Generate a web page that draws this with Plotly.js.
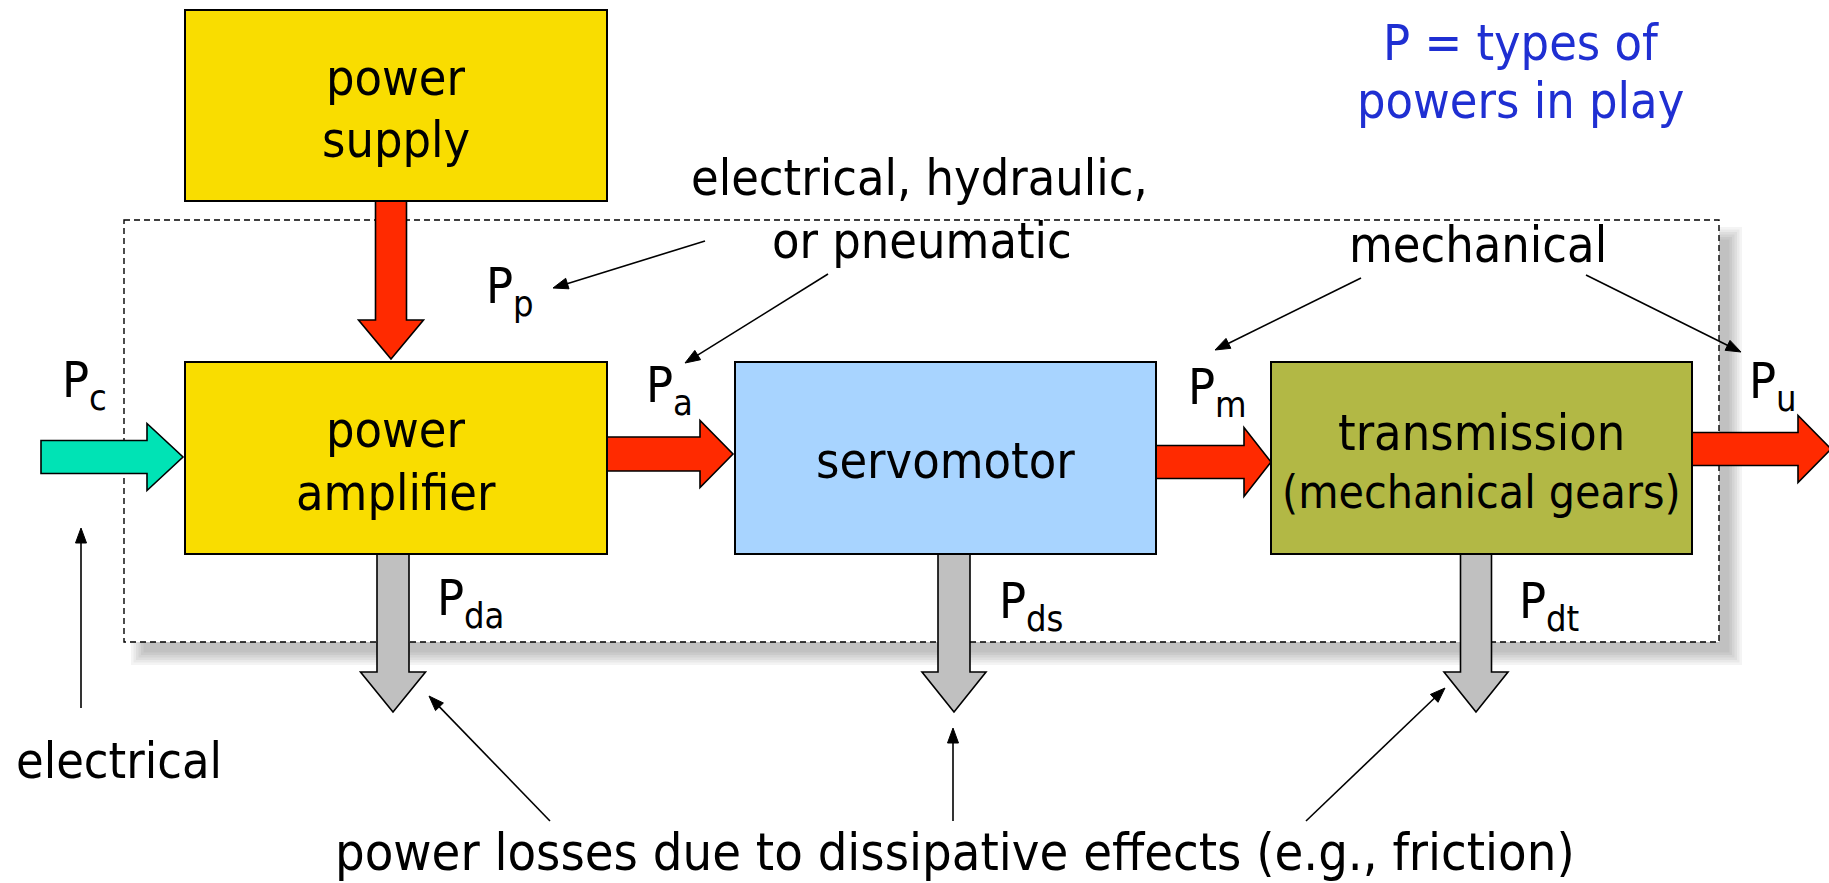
<!DOCTYPE html>
<html>
<head>
<meta charset="utf-8">
<script src="https://cdn.plot.ly/plotly-3.0.1.min.js"></script>
<style>
html,body{margin:0;padding:0;background:#fff;overflow:hidden;}
#chart{width:1829px;height:883px;}
</style>
</head>
<body>
<div id="chart"></div>
<script>
// ---------- content ----------
const boxNames = ["power supply", "power amplifier", "servomotor", "transmission"];
const boxLines = [["power", "supply"], ["power", "amplifier"], ["servomotor"], ["transmission", "(mechanical gears)"]];
const boxColors = ["#F9DD00", "#F9DD00", "#A8D4FF", "#B2B845"];

const powerSymbol = "P";
const powerSubs = ["p", "c", "a", "m", "u", "da", "ds", "dt"];

const noteTexts = ["P = types of", "powers in play", "electrical, hydraulic,", "or pneumatic", "mechanical", "electrical",
  "power losses due to dissipative effects (e.g., friction)"];
const noteColors = ["#1F2FD2", "#1F2FD2", "#000", "#000", "#000", "#000", "#000"];

const flowNames = ["Pp", "Pc", "Pa", "Pm", "Pu", "Pda", "Pds", "Pdt"];
const flowColors = ["#FF2A00", "#00E3B5", "#FF2A00", "#FF2A00", "#FF2A00", "#C0C0C0", "#C0C0C0", "#C0C0C0"];

// ---------- geometry (pixel space of the 1829x883 page) ----------
const W = 1829, H = 883;
const boxX0 = [185, 185, 735, 1271];
const boxX1 = [607, 607, 1156, 1692];
const boxY0 = [10, 362, 362, 362];
const boxY1 = [201, 554, 554, 554];
const boxLineBase = [[95, 157], [447, 510], [478], [450, 508]];
const boxLineSize = [[50, 50], [50, 50], [50], [50, 46]];

// block arrows: tail (x,y), tip (x,y), shaft width, head width, head length
const flowTailX = [391, 41, 607, 1156, 1692, 393, 954, 1476];
const flowTailY = [201, 457, 454, 462, 449, 554, 554, 554];
const flowTipX  = [391, 183, 733, 1271, 1831, 393, 954, 1476];
const flowTipY  = [359, 457, 454, 462, 449, 712, 712, 712];
const flowShaft = [31, 33, 34, 33, 33, 32, 32, 31];
const flowHead  = [65, 67, 67, 69, 67, 65, 64, 64];
const flowHeadLen = [39, 36, 33, 27, 33, 40, 40, 40];

const powerLabelX = [486, 62, 646, 1188, 1749, 437, 999, 1519];
const powerLabelBase = [303, 397, 402, 404, 398, 615, 618, 618];
const SUB_DX = 27, SUB_DY = 13, SUB_SIZE = 36;

const noteX = [1521, 1520, 919, 922, 1478, 16, 335];
const noteAnchor = ["center", "center", "center", "center", "center", "left", "left"];
const noteBase = [60, 118, 195, 258, 262, 778, 870];
const noteSize = [50, 50, 50, 50, 50, 50, 52];

// thin pointer arrows: tail -> tip
const ptrTailX = [705, 828, 1361, 1586, 81, 550, 953, 1306];
const ptrTailY = [241, 274, 278, 275, 708, 821, 821, 821];
const ptrTipX  = [553, 685, 1215, 1741, 81, 429, 953, 1445];
const ptrTipY  = [288, 363, 350, 352, 528, 696, 728, 688];

const frame = {x0: 124, y0: 220, x1: 1719, y1: 642};

// ---------- build ----------
const FONT = '"DejaVu Sans Condensed", "Noto Sans", "DejaVu Sans", sans-serif';
const ASC = 0.93;

const shapes = [];
// drop shadow of the dashed frame
for (let i = 0; i < 6; i++) {
  const d = 8 - i * 2.5;
  shapes.push({type: "rect", xref: "x", yref: "y",
    x0: frame.x0 + 15 - d, x1: frame.x1 + 15 + d, y0: frame.y0 + 15 - d, y1: frame.y1 + 15 + d,
    fillcolor: "rgba(0,0,0,0.045)", line: {width: 0}, layer: "above"});
}
shapes.push({type: "rect", xref: "x", yref: "y", x0: frame.x0, x1: frame.x1, y0: frame.y0, y1: frame.y1,
  fillcolor: "#ffffff", line: {color: "#000", width: 1.4, dash: "6px,4px"}, layer: "above"});

function ptsPath(pts) {
  return "M" + pts.map(p => p[0].toFixed(1) + "," + p[1].toFixed(1)).join(" L") + " Z";
}
function blockArrow(x0, y0, x1, y1, sw, hw, hl) {
  const L = Math.hypot(x1 - x0, y1 - y0);
  const dx = (x1 - x0) / L, dy = (y1 - y0) / L;
  const nx = -dy, ny = dx;
  const bx = x1 - dx * hl, by = y1 - dy * hl;
  return ptsPath([
    [x0 + nx * sw / 2, y0 + ny * sw / 2],
    [bx + nx * sw / 2, by + ny * sw / 2],
    [bx + nx * hw / 2, by + ny * hw / 2],
    [x1, y1],
    [bx - nx * hw / 2, by - ny * hw / 2],
    [bx - nx * sw / 2, by - ny * sw / 2],
    [x0 - nx * sw / 2, y0 - ny * sw / 2]
  ]);
}
flowNames.forEach((n, i) => {
  shapes.push({type: "path", xref: "x", yref: "y",
    path: blockArrow(flowTailX[i], flowTailY[i], flowTipX[i], flowTipY[i], flowShaft[i], flowHead[i], flowHeadLen[i]),
    fillcolor: flowColors[i], line: {color: "#000", width: 1.6}, layer: "above"});
});
boxNames.forEach((n, i) => {
  shapes.push({type: "rect", xref: "x", yref: "y", x0: boxX0[i], x1: boxX1[i], y0: boxY0[i], y1: boxY1[i],
    fillcolor: boxColors[i], line: {color: "#000", width: 2}, layer: "above"});
});

// pointer arrows: thin line + filled triangular head
const HEAD_L = 15, HEAD_W = 11;
ptrTailX.forEach((tx, i) => {
  const x0 = tx, y0 = ptrTailY[i], x1 = ptrTipX[i], y1 = ptrTipY[i];
  const L = Math.hypot(x1 - x0, y1 - y0);
  const dx = (x1 - x0) / L, dy = (y1 - y0) / L;
  const nx = -dy, ny = dx;
  const bx = x1 - dx * HEAD_L, by = y1 - dy * HEAD_L;
  shapes.push({type: "line", xref: "x", yref: "y", x0: x0, y0: y0, x1: bx + dx * 2, y1: by + dy * 2,
    line: {color: "#000", width: 1.6}, layer: "above"});
  shapes.push({type: "path", xref: "x", yref: "y",
    path: ptsPath([[x1, y1], [bx + nx * HEAD_W / 2, by + ny * HEAD_W / 2], [bx - nx * HEAD_W / 2, by - ny * HEAD_W / 2]]),
    fillcolor: "#000", line: {color: "#000", width: 1}, layer: "above"});
});

const annotations = [];
function addText(text, x, xanchor, base, color, size) {
  annotations.push({text: text, x: x, y: base - ASC * size, xref: "x", yref: "y",
    xanchor: xanchor, yanchor: "top", showarrow: false, borderpad: 0, borderwidth: 0,
    font: {family: FONT, size: size, color: color}});
}
boxNames.forEach((n, i) => {
  boxLines[i].forEach((t, j) => addText(t, (boxX0[i] + boxX1[i]) / 2, "center", boxLineBase[i][j], "#000", boxLineSize[i][j]));
});
powerSubs.forEach((s, i) => {
  addText(powerSymbol, powerLabelX[i], "left", powerLabelBase[i], "#000", 50);
  addText(s, powerLabelX[i] + SUB_DX, "left", powerLabelBase[i] + SUB_DY, "#000", SUB_SIZE);
});
noteTexts.forEach((t, i) => addText(t, noteX[i], noteAnchor[i], noteBase[i], noteColors[i], noteSize[i]));

const data = [{x: [0, W], y: [0, H], mode: "markers", marker: {opacity: 0}, hoverinfo: "skip", showlegend: false}];
const layout = {
  width: W, height: H, margin: {l: 0, r: 0, t: 0, b: 0},
  paper_bgcolor: "#fff", plot_bgcolor: "#fff",
  xaxis: {range: [0, W], visible: false, fixedrange: true},
  yaxis: {range: [H, 0], visible: false, fixedrange: true},
  showlegend: false, shapes: shapes, annotations: annotations
};
Plotly.newPlot("chart", data, layout, {staticPlot: true, displayModeBar: false});
</script>
</body>
</html>
